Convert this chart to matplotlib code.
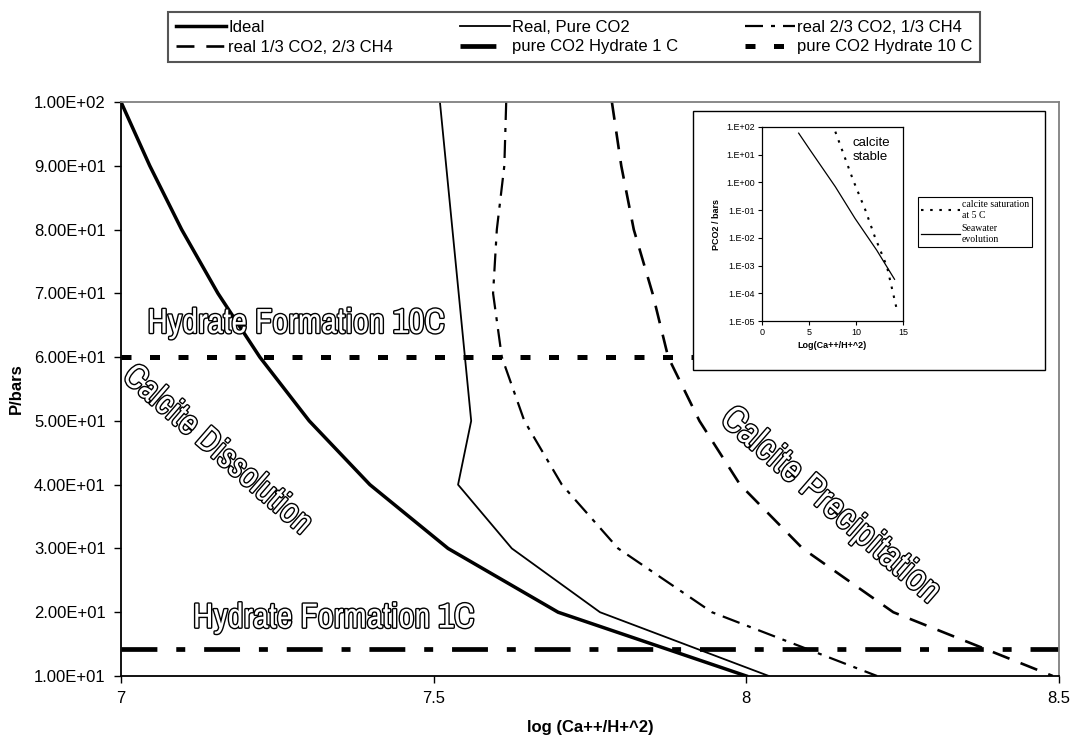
import matplotlib
matplotlib.use("Agg")
import matplotlib.pyplot as plt
import matplotlib.patheffects as pe
from matplotlib.patches import Rectangle

plt.rcParams['font.family'] = ['Liberation Sans', 'DejaVu Sans']

# ---------------- data ----------------
pressure = [100, 90, 80, 70, 60, 50, 40, 30, 20, 10]
ideal = [7.000, 7.046, 7.097, 7.155, 7.222, 7.301, 7.398, 7.523, 7.699, 8.000]
real_pure = [7.510, 7.520, 7.530, 7.540, 7.550, 7.560, 7.539, 7.625, 7.766, 8.036]
real_23 = [7.616, 7.613, 7.601, 7.595, 7.609, 7.645, 7.705, 7.795, 7.945, 8.209]
real_13 = [7.785, 7.800, 7.820, 7.850, 7.875, 7.925, 7.990, 8.090, 8.235, 8.490]
hydrate_1c = 14.3
hydrate_10c = 60.0

x_ticks = [7, 7.5, 8, 8.5]
x_tick_labels = ['7', '7.5', '8', '8.5']
y_ticks = [10, 20, 30, 40, 50, 60, 70, 80, 90, 100]
y_tick_labels = ['1.00E+01', '2.00E+01', '3.00E+01', '4.00E+01', '5.00E+01',
                 '6.00E+01', '7.00E+01', '8.00E+01', '9.00E+01', '1.00E+02']

legend_labels = ['Ideal', 'Real, Pure CO2', 'real 2/3 CO2, 1/3 CH4',
                 'real 1/3 CO2, 2/3 CH4', 'pure CO2 Hydrate 1 C', 'pure CO2 Hydrate 10 C']

inset_sw_x = [3.9, 5.1, 7.8, 9.9, 12.2, 14.1]
inset_sw_p = [60, 15, 0.7, 0.05, 3.6e-3, 3.2e-4]
inset_cal_x = [7.8, 9.7, 11.0, 12.0, 13.3, 14.3]
inset_cal_p = [68, 1.2, 0.1, 0.011, 9e-4, 3e-5]
inset_x_ticks = [0, 5, 10, 15]
inset_x_labels = ['0', '5', '10', '15']
inset_y_ticks = [1e-5, 1e-4, 1e-3, 1e-2, 1e-1, 1e0, 1e1, 1e2]
inset_y_labels = ['1.E-05', '1.E-04', '1.E-03', '1.E-02', '1.E-01', '1.E+00', '1.E+01', '1.E+02']

# ---------------- figure ----------------
W, H = 1073, 736
fig = plt.figure(figsize=(W / 100, H / 100), dpi=100)
fig.patch.set_facecolor('white')

def fx(px):
    return px / W

def fy(py):
    return 1 - py / H

ax_l, ax_r, ax_t, ax_b = 121, 1059, 102, 676
ax = fig.add_axes([fx(ax_l), fy(ax_b), (ax_r - ax_l) / W, (ax_b - ax_t) / H])

l_ideal, = ax.plot(ideal, pressure, color='black', lw=2.5, solid_joinstyle='round')
l_pure, = ax.plot(real_pure, pressure, color='black', lw=1.3)
l_23, = ax.plot(real_23, pressure, color='black', lw=1.6, ls=(0, (8.1, 3.6, 1.8, 3.6)))
l_13, = ax.plot(real_13, pressure, color='black', lw=1.9, ls=(0, (6.8, 4.5)))
l_h1, = ax.plot([x_ticks[0], x_ticks[-1]], [hydrate_1c, hydrate_1c], color='black',
                lw=3.4, ls=(0, (7.6, 4.0, 1.9, 4.0)))
l_h10, = ax.plot([x_ticks[0], x_ticks[-1]], [hydrate_10c, hydrate_10c], color='black',
                 lw=3.6, ls=(0, (2.0, 3.7)))

ax.set_xlim(7, 8.5)
ax.set_ylim(10, 100)
ax.set_xticks(x_ticks)
ax.set_xticklabels(x_tick_labels, fontsize=12)
ax.set_yticks(y_ticks)
ax.set_yticklabels(y_tick_labels, fontsize=12)
ax.tick_params(direction='out', length=5, width=1, color='black', pad=6)
for s in ['left', 'bottom']:
    ax.spines[s].set_color('black')
    ax.spines[s].set_linewidth(1.3)
for s in ['top', 'right']:
    ax.spines[s].set_color('#808080')
    ax.spines[s].set_linewidth(1.3)

ax.set_xlabel('log (Ca++/H+^2)', fontsize=12, fontweight='bold')
ax.xaxis.set_label_coords(0.5, -(720 - ax_b) / (ax_b - ax_t))
ax.set_ylabel('P/bars', fontsize=12, fontweight='bold')
ax.yaxis.set_label_coords(-(ax_l - 24) / (ax_r - ax_l), 0.5)

# outlined annotation texts
outline = [pe.withStroke(linewidth=2.0, foreground='black')]
fam = ['Archivo Narrow', 'PT Sans Narrow', 'DejaVu Sans']
kw = dict(color='white', fontweight='bold', family=fam, path_effects=outline, zorder=5)
ax.text(7.28, 63.8, 'Hydrate Formation 10C', ha='center', va='baseline', fontsize=25, **kw)
ax.text(7.34, 17.6, 'Hydrate Formation 1C', ha='center', va='baseline', fontsize=25, **kw)
ax.text(7.155, 45.5, 'Calcite Dissolution', ha='center', va='center', fontsize=25,
        rotation=-41, rotation_mode='anchor', **kw)
ax.text(8.135, 36.8, 'Calcite Precipitation', ha='center', va='center', fontsize=27,
        rotation=-41, rotation_mode='anchor', **kw)

# main legend
handles = [l_ideal, l_13, l_pure, l_h1, l_23, l_h10]
labels = [legend_labels[0], legend_labels[3], legend_labels[1],
          legend_labels[4], legend_labels[2], legend_labels[5]]
leg = fig.legend(handles, labels, ncol=3, loc='upper left',
                 bbox_to_anchor=(fx(168), fy(12)), fontsize=12, frameon=True,
                 fancybox=False, edgecolor='#555555', framealpha=1,
                 handlelength=3.0, handletextpad=0.15, columnspacing=4.0,
                 borderpad=0.45, labelspacing=0.3, borderaxespad=0)
leg.get_frame().set_linewidth(1.5)

# inset outer box
box = Rectangle((fx(693), fy(370)), (1045 - 693) / W, (370 - 111) / H,
                transform=fig.transFigure, facecolor='white', edgecolor='black',
                lw=1.0, zorder=1)
fig.add_artist(box)

iax = fig.add_axes([fx(762), fy(321), (903 - 762) / W, (321 - 127) / H], zorder=2)
iax.set_yscale('log')
iax.plot(inset_sw_x, inset_sw_p, color='black', lw=0.9, label='Seawater\nevolution')
iax.plot(inset_cal_x, inset_cal_p, color='black', lw=1.5, ls=(0, (1.2, 3.2)),
         label='calcite saturation\nat 5 C')
iax.set_xlim(0, 15)
iax.set_ylim(1e-5, 1e2)
iax.set_xticks(inset_x_ticks)
iax.set_xticklabels(inset_x_labels, fontsize=6.5)
iax.set_yticks(inset_y_ticks)
iax.set_yticklabels(inset_y_labels, fontsize=6.5)
iax.minorticks_off()
iax.tick_params(direction='out', length=3, width=0.8, pad=2)
for s in iax.spines.values():
    s.set_linewidth(0.9)
iax.set_xlabel('Log(Ca++/H+^2)', fontsize=6.5, fontweight='bold', labelpad=3)
iax.set_ylabel('PCO2 / bars', fontsize=6.5, fontweight='bold', labelpad=4)
iax.text(9.68, 44, 'calcite\nstable', fontsize=9.5, ha='left', va='top', linespacing=1.25)

ih, il = iax.get_legend_handles_labels()
ileg = fig.legend([ih[1], ih[0]], [il[1], il[0]], loc='upper left',
                  bbox_to_anchor=(fx(918), fy(197)),
                  prop={'family': ['Liberation Serif', 'DejaVu Serif'], 'size': 7},
                  frameon=True, fancybox=False, edgecolor='black', framealpha=1,
                  handlelength=4.0, handletextpad=0.15, borderpad=0.35,
                  labelspacing=0.45, borderaxespad=0)
ileg.get_frame().set_linewidth(0.8)
ileg.set_zorder(3)

fig.savefig('out.png', dpi=100)
